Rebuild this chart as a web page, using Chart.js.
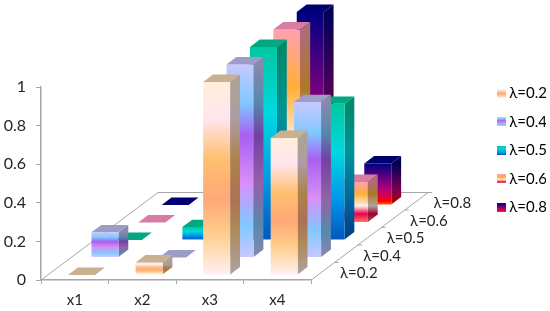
<!DOCTYPE html>
<html>
  <head>
    <script src="https://cdn.jsdelivr.net/npm/chart.js@4"></script>
    <style>
      html, body { margin: 0; padding: 0; background: #fff; }
      #wrap { width: 550px; height: 311px; }
    </style>
  </head>

  <body>
    <div id="wrap"><canvas id="canvas"></canvas></div>
    <script>
      const categories = ['x1', 'x2', 'x3', 'x4'];
      const depthLabels = ['λ=0.2', 'λ=0.4', 'λ=0.5', 'λ=0.6', 'λ=0.8'];
      const yTicks = [0, 0.2, 0.4, 0.6, 0.8, 1];

      const lambda02 = [0, 0.065, 1, 0.71];
      const lambda04 = [0.13, 0, 1, 0.805];
      const lambda05 = [0, 0.067, 1, 0.705];
      const lambda06 = [0, 0, 1, 0.21];
      const lambda08 = [0, 0, 1, 0.215];
      const seriesValues = [lambda02, lambda04, lambda05, lambda06, lambda08];

      // gradient stops top to bottom, [offset, r, g, b]
      const fills = [
        [[0, 255, 238, 220], [0.19, 255, 230, 238], [0.4, 255, 192, 112], [0.61, 255, 168, 120], [0.78, 255, 204, 136], [1, 255, 240, 240]],
        [[0, 200, 200, 255], [0.2, 128, 200, 255], [0.37, 168, 96, 240], [0.62, 216, 144, 248], [0.83, 128, 200, 255], [1, 200, 200, 255]],
        [[0, 0, 200, 160], [0.35, 0, 216, 224], [0.7, 0, 152, 232], [1, 0, 88, 192]],
        [[0, 255, 160, 176], [0.3, 255, 176, 56], [0.6, 255, 240, 230], [0.8, 232, 0, 76], [1, 255, 120, 90]],
        [[0, 0, 0, 128], [0.45, 128, 0, 128], [0.7, 192, 0, 112], [0.92, 255, 0, 0], [1, 255, 96, 0]],
      ];
      const topColors = ['#c8b090', '#9c9cc8', '#00a884', '#d87ca4', '#000070'];

      const depthDx = 23.4;
      const depthDy = 17.5;
      const barDepth = 0.42;
      const axisGray = '#a6a6a6';
      const textColor = '#262626';
      const fontFamily = 'Lato, "Open Sans", sans-serif';

      function gradient(ctx, stops, y0, y1, k) {
        const g = ctx.createLinearGradient(0, y0, 0, y1);
        stops.forEach((s) => {
          g.addColorStop(s[0], `rgb(${s[1] * k},${s[2] * k},${s[3] * k})`);
        });
        return g;
      }

      function swatch(stops) {
        const c = document.createElement('canvas');
        c.width = 9;
        c.height = 9;
        const ctx = c.getContext('2d');
        ctx.fillStyle = gradient(ctx, stops, 0, 9, 1);
        ctx.fillRect(0, 0, 9, 9);
        return c;
      }

      function poly(ctx, pts, fill) {
        ctx.beginPath();
        pts.forEach((p, i) => (i ? ctx.lineTo(p[0], p[1]) : ctx.moveTo(p[0], p[1])));
        ctx.closePath();
        ctx.fillStyle = fill;
        ctx.fill();
      }

      // bars drawn as boxes, pushed back along the depth axis by dataset index
      class Bar3DController extends Chart.BarController {
        draw() {
          const ctx = this.chart.ctx;
          const i = this.index;
          const stops = fills[i];
          const ox = depthDx * (i + (1 - barDepth) / 2);
          const oy = depthDy * (i + (1 - barDepth) / 2);
          const sx = depthDx * barDepth;
          const sy = depthDy * barDepth;
          this.getMeta().data.forEach((bar) => {
            const l = bar.x - bar.width / 2 + ox;
            const r = bar.x + bar.width / 2 + ox;
            const t = bar.y - oy;
            const b = bar.base - oy;
            if (b - t > 0.5) {
              poly(ctx, [[r, t], [r + sx, t - sy], [r + sx, b - sy], [r, b]], gradient(ctx, stops, t, b, 0.68));
              poly(ctx, [[l, t], [r, t], [r, b], [l, b]], gradient(ctx, stops, t, b, 1));
            }
            poly(ctx, [[l, t], [l + sx, t - sy], [r + sx, t - sy], [r, t]], topColors[i]);
          });
        }
      }
      Bar3DController.id = 'bar3d';
      Bar3DController.defaults = Chart.BarController.defaults;
      Chart.register(Bar3DController);

      const floorPlugin = {
        id: 'floor',
        afterLayout(chart) {
          chart.legend.top -= 15;
          chart.legend.left += 11;
        },
        beforeDatasetsDraw(chart) {
          const ctx = chart.ctx;
          const a = chart.chartArea;
          const n = depthLabels.length;
          const bx = depthDx * n;
          const by = depthDy * n;
          ctx.save();
          ctx.strokeStyle = axisGray;
          ctx.lineWidth = 1;
          ctx.beginPath();
          ctx.moveTo(a.left, a.bottom);
          ctx.lineTo(a.left + bx, a.bottom - by);
          ctx.lineTo(a.right + bx, a.bottom - by);
          ctx.lineTo(a.right, a.bottom);
          for (let i = 1; i <= n; i++) {
            const x = a.right + depthDx * i;
            const y = a.bottom - depthDy * i;
            ctx.moveTo(x, y);
            ctx.lineTo(x + 4, y);
          }
          ctx.stroke();
          ctx.fillStyle = textColor;
          ctx.font = '15px ' + fontFamily;
          ctx.textBaseline = 'middle';
          depthLabels.forEach((label, i) => {
            ctx.fillText(label, a.right + depthDx * (i + 0.5) + 17, a.bottom - depthDy * (i + 0.5) + 2);
          });
          ctx.restore();
        },
      };

      new Chart(document.getElementById('canvas').getContext('2d'), {
        type: 'bar3d',
        plugins: [floorPlugin],
        data: {
          labels: categories,
          datasets: depthLabels.map((label, i) => ({
            label,
            data: seriesValues[i],
            clip: false,
            grouped: false,
            categoryPercentage: 1,
            barPercentage: 0.4,
          })),
        },
        options: {
          responsive: true,
          maintainAspectRatio: false,
          animation: false,
          layout: { padding: { top: 87, right: 4, left: 0, bottom: 0 } },
          plugins: {
            tooltip: { enabled: false },
            legend: {
              position: 'right',
              align: 'start',
              labels: {
                color: textColor,
                font: { family: fontFamily, size: 15 },
                padding: 13.6,
                usePointStyle: true,
                pointStyleWidth: 1,
                generateLabels: () =>
                  depthLabels.map((text, i) => ({
                    text,
                    datasetIndex: i,
                    pointStyle: swatch(fills[i]),
                    fillStyle: '#fff',
                    strokeStyle: '#fff',
                    lineWidth: 0,
                  })),
              },
            },
          },
          scales: {
            x: {
              type: 'category',
              offset: true,
              border: { color: axisGray, width: 1.5 },
              grid: { display: true, drawOnChartArea: false, color: axisGray, tickLength: 4, offset: true },
              ticks: { color: textColor, font: { family: fontFamily, size: 15 }, padding: 7, maxRotation: 0 },
              afterFit: (s) => { s.height = 31; },
            },
            y: {
              min: 0,
              max: 1,
              afterBuildTicks: (s) => { s.ticks = yTicks.map((value) => ({ value })); },
              border: { color: axisGray, width: 1.5 },
              grid: { drawOnChartArea: false, color: axisGray, tickLength: 5 },
              ticks: { color: textColor, font: { family: fontFamily, size: 16 }, padding: 10, callback: (v) => String(v) },
              afterFit: (s) => { s.width = 41; },
            },
            // empty axis, only keeps the room right of the plot free for the depth axis
            room: {
              axis: 'y',
              position: 'right',
              display: true,
              border: { display: false },
              grid: { display: false },
              ticks: { display: false },
              afterFit: (s) => { s.width = 165; },
            },
          },
        },
      });
    </script>
  </body>
</html>
